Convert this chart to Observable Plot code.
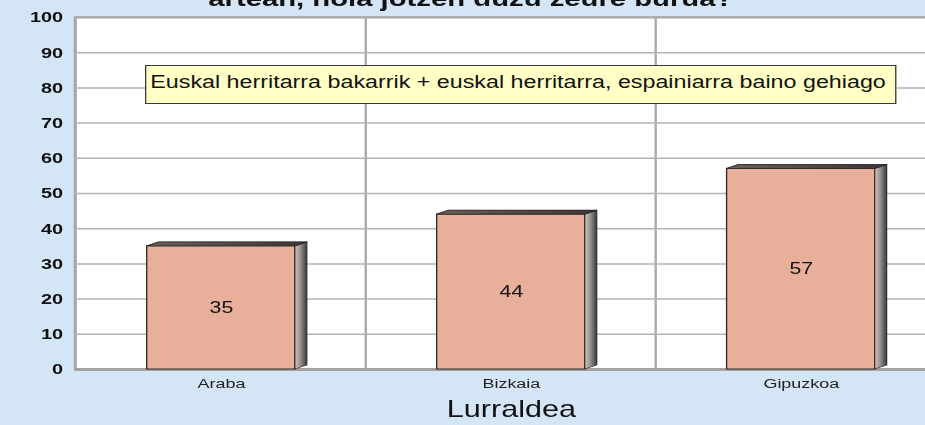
<!DOCTYPE html>
<html>
<head>
<meta charset="utf-8">
<script src="https://cdn.jsdelivr.net/npm/d3@7"></script>
<script src="https://cdn.jsdelivr.net/npm/@observablehq/plot@0.6"></script>
<style>
  html, body { margin: 0; padding: 0; width: 925px; height: 425px; overflow: hidden; background: #d4e6f5; }
  #wrap { position: relative; width: 720px; height: 425px; transform: scaleX(1.33); transform-origin: 0 0;
          font-family: "Liberation Sans", Arial, Helvetica, sans-serif; }
  #title { position: absolute; left: 0; top: -12px; width: 708px; text-align: center; font-size: 22px; font-weight: bold;
           line-height: 22px; color: #111; white-space: nowrap; }
  #legendbox { position: absolute; left: 109px; top: 65px; width: 560px; height: 37px; border: 1px solid #3a3a3a;
               background: #ffffc6; font-size: 17.5px; line-height: 33px; padding-left: 3px; color: #111; white-space: nowrap; box-sizing: content-box; }
</style>
</head>
<body>
<div id="wrap">
  <div id="chart"></div>
  <div id="title">artean, nola jotzen duzu zeure burua?</div>
  <div id="legendbox">Euskal herritarra bakarrik + euskal herritarra, espainiarra baino gehiago</div>
</div>
<script>
const regions = ["Araba", "Bizkaia", "Gipuzkoa"];
const values = [35, 44, 57];
const yTicks = [0, 10, 20, 30, 40, 50, 60, 70, 80, 90, 100];
const xLabel = "Lurraldea";

const data = regions.map((r, i) => ({region: r, value: values[i]}));
const gridLines = yTicks.filter(t => t > 0 && t < 100);

const INSET = 53.3;   // bar inset within band (px)
const DX = 9, DY = 4; // 3D depth

function bars3d(index, scales) {
  const x = scales.x, y = scales.y;
  const bw = x.bandwidth();
  const g = d3.create("svg:g");
  const defs = g.append("defs");
  const grad = defs.append("linearGradient").attr("id", "sideGrad").attr("x1", "0").attr("x2", "1").attr("y1", "0").attr("y2", "0");
  grad.append("stop").attr("offset", "0").attr("stop-color", "#d2c6be");
  grad.append("stop").attr("offset", "0.45").attr("stop-color", "#9a928e");
  grad.append("stop").attr("offset", "1").attr("stop-color", "#3a3a3a");
  const tgrad = defs.append("linearGradient").attr("id", "topGrad").attr("x1", "0").attr("x2", "1").attr("y1", "0").attr("y2", "0");
  tgrad.append("stop").attr("offset", "0").attr("stop-color", "#6a5e58");
  tgrad.append("stop").attr("offset", "1").attr("stop-color", "#3c3634");
  for (const d of data) {
    const xl = x(d.region) + INSET;
    const xr = x(d.region) + bw - INSET;
    const yt = y(d.value), yb = y(0);
    g.append("polygon")
      .attr("points", [[xr, yt], [xr + DX, yt - DY], [xr + DX, yb - DY], [xr, yb]].map(p => p.join(",")).join(" "))
      .attr("fill", "url(#sideGrad)").attr("stroke", "#262626").attr("stroke-width", 0.8).attr("stroke-linejoin", "round");
    g.append("polygon")
      .attr("points", [[xl, yt], [xl + DX, yt - DY], [xr + DX, yt - DY], [xr, yt]].map(p => p.join(",")).join(" "))
      .attr("fill", "url(#topGrad)").attr("stroke", "#262626").attr("stroke-width", 0.8).attr("stroke-linejoin", "round");
  }
  return g.node();
}

const plot = Plot.plot({
  width: 720,
  height: 425,
  marginLeft: 56,
  marginRight: 8,
  marginTop: 17,
  marginBottom: 56,
  style: {background: "transparent", fontFamily: "'Liberation Sans', Arial, sans-serif", overflow: "visible"},
  x: {type: "band", domain: regions, padding: 0, label: null},
  y: {domain: [0, 100], label: null},
  marks: [
    Plot.frame({fill: "white", stroke: "#a2a2a2", strokeWidth: 2}),
    Plot.barY(regions, {x: d => d, y1: 0, y2: 100, fill: "none", stroke: "#aaaaaa", strokeWidth: 1.5}),
    Plot.ruleY(gridLines, {stroke: "#b4b4b4", strokeWidth: 1.5}),
    Plot.ruleY([0], {stroke: "#a2a2a2", strokeWidth: 3}),
    Plot.axisY({ticks: yTicks, tickSize: 0, tickPadding: 9, fontSize: 15, fontWeight: "bold", fill: "#111", label: null}),
    Plot.axisX({tickSize: 0, tickPadding: 9, fontSize: 13.5, fill: "#222", label: null}),
    Plot.barY(data, {x: "region", y: "value", fill: "#e8af9a", stroke: "#2a2a2a", strokeWidth: 1, insetLeft: INSET, insetRight: INSET}),
    bars3d,
    Plot.text(data, {x: "region", y: d => d.value / 2, text: d => String(d.value), fontSize: 16, fill: "#111"}),
    Plot.text([xLabel], {text: d => d, frameAnchor: "bottom", dy: 47, fontSize: 23, fill: "#111"})
  ]
});
document.getElementById("chart").appendChild(plot);
</script>
</body>
</html>
